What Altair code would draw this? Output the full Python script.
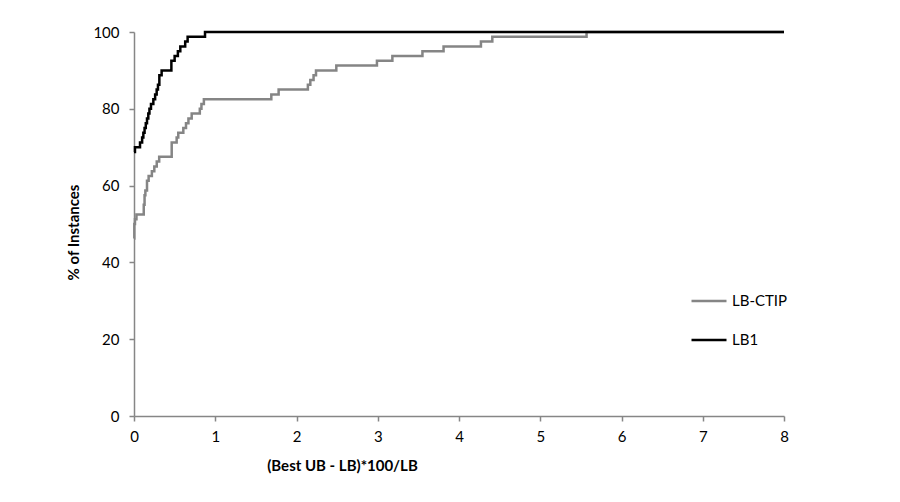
import altair as alt
import pandas as pd

# LB1 (black) step points: gap (%) and % of instances
lb1_x = [0, 0.012, 0.074, 0.10, 0.115, 0.13, 0.145, 0.16, 0.176, 0.19, 0.209, 0.238, 0.26, 0.279, 0.295, 0.312, 0.34,
         0.46, 0.5, 0.54, 0.57, 0.63, 0.66, 0.874, 8.0]
lb1_y = [68.75, 70, 71.25, 72.5, 73.75, 75, 76.25, 77.5, 78.75, 80, 81.25, 82.5, 83.75, 85, 86.25, 88.75, 90,
         92.5, 93.75, 95, 96.25, 97.5, 98.75, 100, 100]

# LB-CTIP (grey) step points
ctip_x = [0, 0.004, 0.012, 0.03, 0.12, 0.13, 0.14, 0.16, 0.18, 0.22, 0.25, 0.28, 0.31, 0.34, 0.464, 0.525, 0.545,
          0.607, 0.64, 0.67, 0.71, 0.81, 0.83, 0.86, 1.69, 1.78, 2.14, 2.17, 2.21, 2.24, 2.49, 2.99, 3.18, 3.55,
          3.81, 4.27, 4.41, 5.57, 8.0]
ctip_y = [46.25, 50, 51.25, 52.5, 55, 57.5, 58.75, 61.25, 62.5, 63.75, 65, 66.25, 67.5, 67.5, 71.25, 72.5, 73.75,
          75, 76.25, 77.5, 78.75, 80, 81.25, 82.5, 83.75, 85, 86.25, 87.5, 88.75, 90, 91.25, 92.5, 93.75, 95,
          96.25, 97.5, 98.75, 100, 100]

series_names = ["LB-CTIP", "LB1"]
series_colors = ["#858585", "#000000"]

df_ctip = pd.DataFrame({"x": ctip_x, "y": ctip_y, "series": "LB-CTIP"})
df_lb1 = pd.DataFrame({"x": lb1_x, "y": lb1_y, "series": "LB1"})

FONT = "Lato"

x_enc = alt.X("x:Q", scale=alt.Scale(domain=[0, 8], nice=False),
              axis=alt.Axis(title="(Best UB - LB)*100/LB", values=list(range(0, 9)), labelFlush=False,
                            labelPadding=8, titleX=208, titleY=49, titleBaseline="middle"))
y_enc = alt.Y("y:Q", scale=alt.Scale(domain=[0, 100], nice=False),
              axis=alt.Axis(title="% of Instances", values=list(range(0, 101, 20)), labelFlush=False,
                            labelPadding=10, titleX=-61, titleY=200, titleBaseline="middle", titleAngle=-90))
color_enc = alt.Color("series:N", scale=alt.Scale(domain=series_names, range=series_colors),
                      legend=alt.Legend(title=None, orient="none", legendX=556, legendY=250,
                                        symbolType="stroke", symbolSize=1225, symbolStrokeWidth=2.5,
                                        labelFontSize=15, labelFont=FONT, rowPadding=12, labelOffset=4,
                                        labelColor="#000000"))

grey = alt.Chart(df_ctip).mark_line(interpolate="step-after", strokeWidth=2.5).encode(
    x=x_enc, y=y_enc, color=color_enc)
black = alt.Chart(df_lb1).mark_line(interpolate="step-after", strokeWidth=2.5).encode(
    x=x_enc, y=y_enc, color=color_enc)

chart = alt.layer(grey, black).properties(
    width=650, height=384,
    autosize=alt.AutoSizeParams(type="none"),
    padding={"left": 126, "top": 24, "right": 100, "bottom": 70},
).configure_view(stroke=None).configure_axis(
    grid=False, domainColor="#868686", tickColor="#868686", tickSize=5, domainWidth=1.5, tickWidth=1.5,
    labelFont=FONT, labelFontSize=15, labelColor="#000000", titleFont=FONT, titleFontSize=15,
    titleFontWeight="bold", titleColor="#000000"
)

chart.save("out.html", embed_options={"renderer": "svg", "actions": False})
